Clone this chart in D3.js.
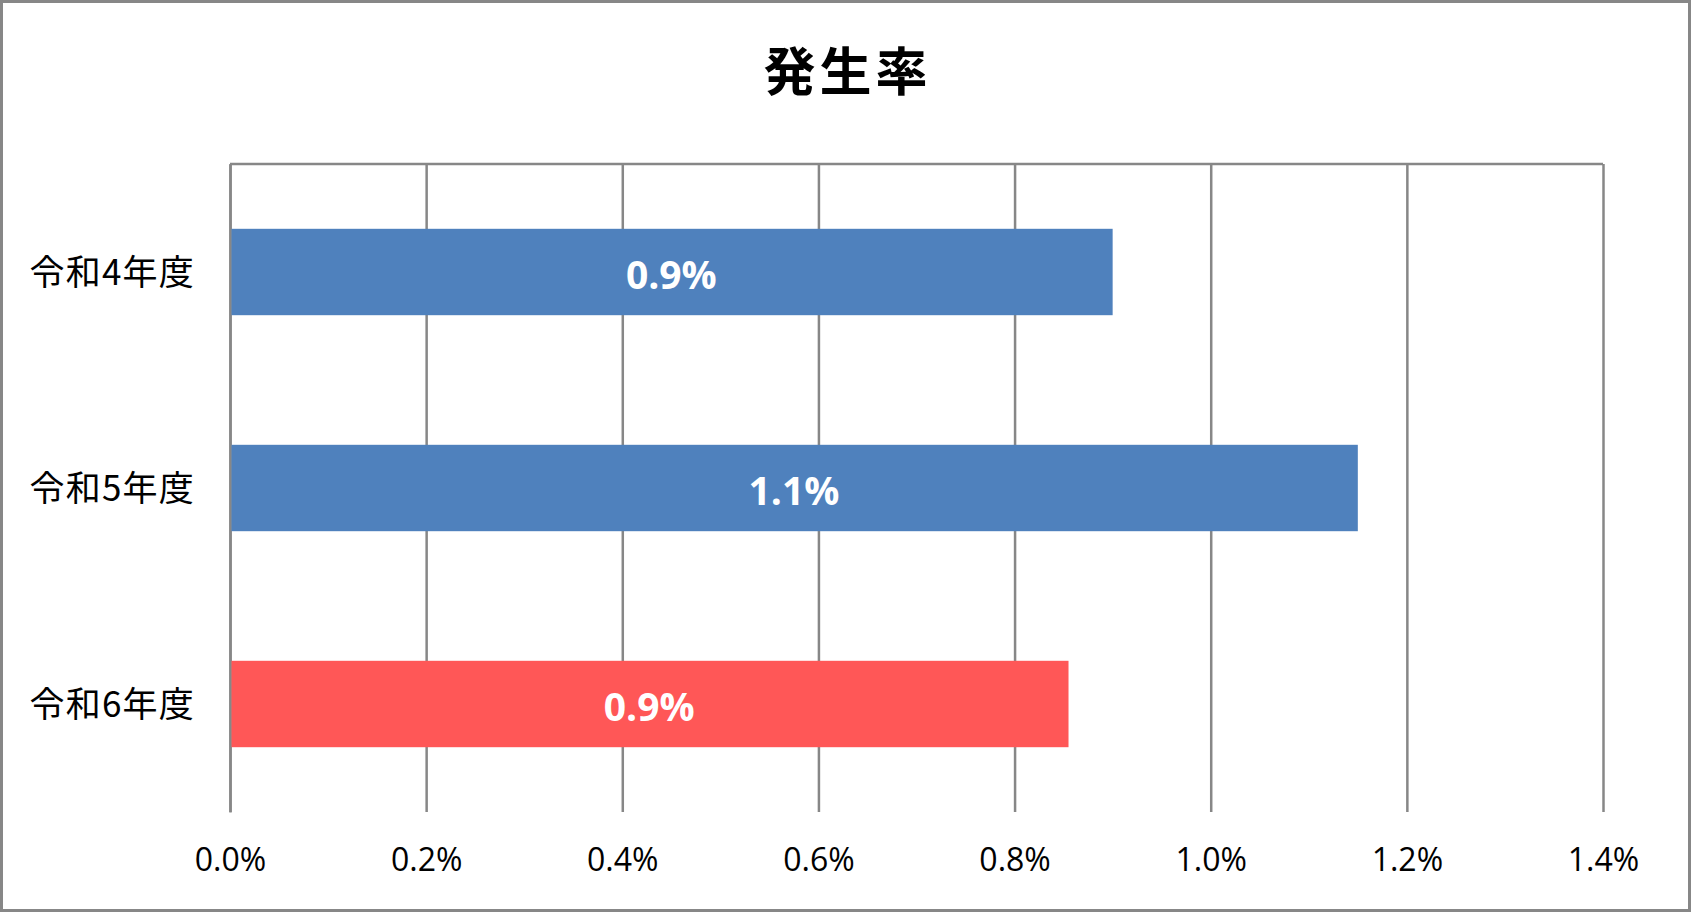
<!DOCTYPE html>
<html>
<head>
<meta charset="utf-8">
<script src="https://cdn.jsdelivr.net/npm/d3@7"></script>
<style>
  html, body { margin: 0; padding: 0; background: #fff; }
  svg { display: block; }
</style>
</head>
<body>
<svg id="chart" width="1691" height="912"></svg>
<script>
const title = "発生率";
const categories = ["令和4年度", "令和5年度", "令和6年度"];
const values = [0.9, 1.15, 0.855];
const dataLabels = ["0.9%", "1.1%", "0.9%"];
const barColors = ["#4F81BD", "#4F81BD", "#FF5757"];
const tickValues = [0, 0.2, 0.4, 0.6, 0.8, 1.0, 1.2, 1.4];
const tickLabels = ["0.0%", "0.2%", "0.4%", "0.6%", "0.8%", "1.0%", "1.2%", "1.4%"];

const W = 1691, H = 912;
const plot = { left: 230, right: 1603, top: 164, bottom: 812 };
const grey = "#878787";

const svg = d3.select("#chart");

// outer border
svg.append("rect")
  .attr("x", 1.5).attr("y", 1.5)
  .attr("width", W - 3).attr("height", H - 3)
  .attr("fill", "#fff").attr("stroke", grey).attr("stroke-width", 3);

const x = d3.scaleLinear().domain([0, 1.4]).range([plot.left, plot.right]);
const y = d3.scaleBand().domain(categories)
  .range([plot.top, plot.bottom]).paddingInner(0.6).paddingOuter(0.3);

// gridlines + tick labels via axis
const xAxis = d3.axisBottom(x)
  .tickValues(tickValues)
  .tickFormat((d, i) => tickLabels[i])
  .tickSizeInner(-(plot.bottom - plot.top))
  .tickSizeOuter(0)
  .tickPadding(0);

const gx = svg.append("g")
  .attr("transform", `translate(0,${plot.bottom})`)
  .call(xAxis);
gx.select(".domain").remove();
gx.selectAll(".tick line").attr("stroke", grey).attr("stroke-width", 2.5);
gx.selectAll(".tick text")
  .attr("y", 59).attr("dy", null)
  .attr("fill", "#000")
  .style("font-family", "'Open Sans', sans-serif")
  .style("font-size", "32px");

// top border of plot area
svg.append("line")
  .attr("x1", x(0)).attr("x2", x(1.4))
  .attr("y1", plot.top).attr("y2", plot.top)
  .attr("stroke", grey).attr("stroke-width", 2.5);

// y axis line
const yAxis = d3.axisLeft(y).tickSize(0).tickPadding(35);
const gy = svg.append("g")
  .attr("transform", `translate(${plot.left},0)`)
  .call(yAxis);
gy.select(".domain").attr("stroke", grey).attr("stroke-width", 2.5);
gy.selectAll(".tick text")
  .attr("fill", "#000")
  .attr("dy", "0.36em")
  .style("font-family", "'Noto Sans CJK JP', sans-serif")
  .style("font-size", "35px")
  .style("letter-spacing", "1.2px");

// bars
svg.append("g").selectAll("rect")
  .data(values)
  .join("rect")
  .attr("x", x(0) + 1.5)
  .attr("y", (d, i) => y(categories[i]))
  .attr("width", d => x(d) - x(0) - 1.5)
  .attr("height", y.bandwidth())
  .attr("fill", (d, i) => barColors[i]);

// data labels
svg.append("g").selectAll("text")
  .data(values)
  .join("text")
  .attr("x", d => (x(0) + x(d)) / 2)
  .attr("y", (d, i) => y(categories[i]) + y.bandwidth() / 2)
  .attr("dy", "0.44em")
  .attr("text-anchor", "middle")
  .attr("fill", "#fff")
  .style("font-family", "'Open Sans', sans-serif")
  .style("font-weight", "700")
  .style("font-size", "39px")
  .text((d, i) => dataLabels[i]);

// title
svg.append("text")
  .attr("x", W / 2 + 2)
  .attr("y", 73)
  .attr("dy", "0.35em")
  .attr("text-anchor", "middle")
  .attr("fill", "#000")
  .style("font-family", "'Noto Sans CJK JP', sans-serif")
  .style("font-weight", "700")
  .style("font-size", "52px")
  .style("letter-spacing", "4px")
  .text(title);
</script>
</body>
</html>
